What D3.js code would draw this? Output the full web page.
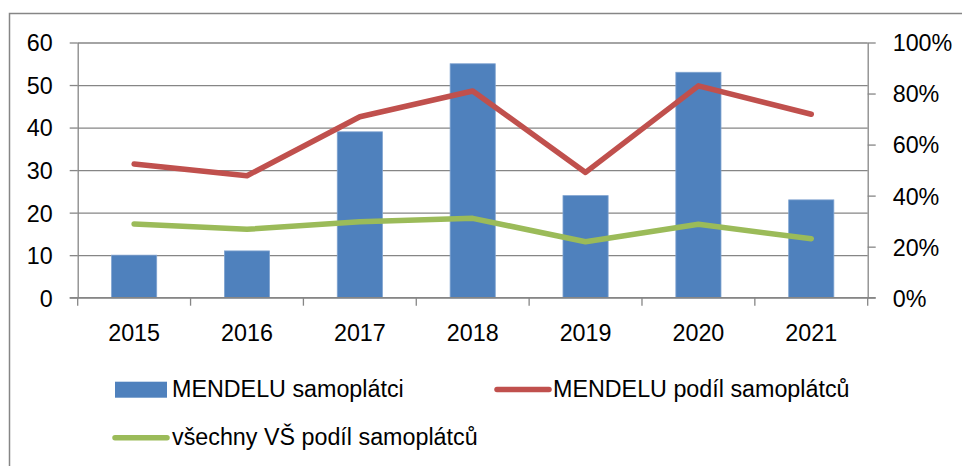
<!DOCTYPE html>
<html>
<head>
<meta charset="utf-8">
<script src="https://cdn.jsdelivr.net/npm/d3@7"></script>
<style>
  body { margin: 0; background: #fff; }
  svg text { font-family: "Liberation Sans", Arial, sans-serif; fill: #000; }
</style>
</head>
<body>
<div id="canvas"></div>
<script>
// data
let years = ["2015", "2016", "2017", "2018", "2019", "2020", "2021"]
let mendeluCount = [10, 11, 39, 55, 24, 53, 23]
let mendeluShare = [0.524, 0.478, 0.709, 0.810, 0.491, 0.830, 0.719]
let allShare = [0.289, 0.268, 0.298, 0.311, 0.219, 0.288, 0.231]
let leftTicks = [0, 10, 20, 30, 40, 50, 60]
let rightTicks = [0, 0.2, 0.4, 0.6, 0.8, 1]

let width = 962
let height = 466
let fontSize = 23.3

let svg = d3.select("#canvas").append("svg")
    .attr("width", width)
    .attr("height", height)

// chart border
svg.append("rect")
    .attr("x", 9.5).attr("y", 13.5)
    .attr("width", 980).attr("height", 480)
    .attr("fill", "none")
    .attr("stroke", "#868686")
    .attr("stroke-width", 1.5)

let plot = { left: 77.7, right: 867.7, top: 42.5, bottom: 297.7 }

let x = d3.scaleBand()
    .domain(years)
    .range([plot.left, plot.right])

let yLeft = d3.scaleLinear().domain([0, 60]).range([plot.bottom, plot.top])
let yRight = d3.scaleLinear().domain([0, 1]).range([plot.bottom, plot.top])

// gridlines (left axis ticks)
svg.append("g")
    .attr("transform", "translate(" + plot.left + ",0)")
    .call(d3.axisLeft(yLeft).tickValues(leftTicks)
        .tickSize(-(plot.right - plot.left)).tickSizeOuter(0).tickPadding(0).tickFormat(""))
    .call(g => g.select(".domain").remove())
    .call(g => g.selectAll("line").attr("stroke", "#868686").attr("stroke-width", 1.3))

// small left tick stubs
svg.append("g")
    .attr("transform", "translate(" + plot.left + ",0)")
    .call(d3.axisLeft(yLeft).tickValues(leftTicks).tickSize(8).tickSizeOuter(0).tickPadding(17))
    .call(g => g.select(".domain").attr("stroke", "#868686").attr("stroke-width", 1.3))
    .call(g => g.selectAll("line").attr("stroke", "#868686").attr("stroke-width", 1.3))
    .call(g => g.selectAll("text").attr("font-size", fontSize).attr("font-family", null).attr("dy", "0.36em"))

// right axis
svg.append("g")
    .attr("transform", "translate(" + plot.right + ",0)")
    .call(d3.axisRight(yRight).tickValues(rightTicks).tickSize(8).tickSizeOuter(0)
        .tickPadding(17).tickFormat(d3.format(".0%")))
    .call(g => g.select(".domain").attr("stroke", "#868686").attr("stroke-width", 1.3))
    .call(g => g.selectAll("line").attr("stroke", "#868686").attr("stroke-width", 1.3))
    .call(g => g.selectAll("text").attr("font-size", fontSize).attr("font-family", null).attr("dy", "0.36em"))

// bars
let barW = x.bandwidth() * 0.4
svg.append("g")
    .selectAll("rect")
    .data(years)
    .enter().append("rect")
        .attr("x", d => x(d) + (x.bandwidth() - barW) / 2)
        .attr("y", (d, i) => yLeft(mendeluCount[i]))
        .attr("width", barW)
        .attr("height", (d, i) => plot.bottom - yLeft(mendeluCount[i]))
        .attr("fill", "#4F81BD")
        .attr("stroke", "#7FA3D0")
        .attr("stroke-width", 0.8)

// bottom axis (category boundaries)
let xAxis = svg.append("g")
    .attr("transform", "translate(0," + plot.bottom + ")")
xAxis.append("line")
    .attr("x1", plot.left - 8).attr("x2", plot.right + 8)
    .attr("stroke", "#868686").attr("stroke-width", 1.3)
xAxis.selectAll(".tk")
    .data(years.concat(["end"]))
    .enter().append("line")
        .attr("x1", (d, i) => plot.left + i * x.step())
        .attr("x2", (d, i) => plot.left + i * x.step())
        .attr("y1", 0).attr("y2", 8)
        .attr("stroke", "#868686").attr("stroke-width", 1.3)
xAxis.selectAll("text")
    .data(years)
    .enter().append("text")
        .attr("x", d => x(d) + x.bandwidth() / 2)
        .attr("y", 43)
        .attr("text-anchor", "middle")
        .attr("font-size", fontSize)
        .text(d => d)

// lines
let line = d3.line()
    .x((d, i) => x(years[i]) + x.bandwidth() / 2)
    .y(d => yRight(d))

svg.append("path")
    .datum(mendeluShare)
    .attr("d", line)
    .attr("fill", "none")
    .attr("stroke", "#C0504D")
    .attr("stroke-width", 5.5)
    .attr("stroke-linejoin", "round")
    .attr("stroke-linecap", "round")

svg.append("path")
    .datum(allShare)
    .attr("d", line)
    .attr("fill", "none")
    .attr("stroke", "#9BBB59")
    .attr("stroke-width", 5.5)
    .attr("stroke-linejoin", "round")
    .attr("stroke-linecap", "round")

// legend
let legend = svg.append("g")

legend.append("rect")
    .attr("x", 115).attr("y", 381.7)
    .attr("width", 52).attr("height", 16)
    .attr("fill", "#4F81BD")
legend.append("text")
    .attr("x", 172).attr("y", 397)
    .attr("font-size", fontSize)
    .text("MENDELU samoplátci")

legend.append("line")
    .attr("x1", 497).attr("x2", 549)
    .attr("y1", 389.5).attr("y2", 389.5)
    .attr("stroke", "#C0504D").attr("stroke-width", 5.5)
    .attr("stroke-linecap", "round")
legend.append("text")
    .attr("x", 553).attr("y", 397)
    .attr("font-size", fontSize)
    .text("MENDELU podíl samoplátců")

legend.append("line")
    .attr("x1", 115).attr("x2", 167)
    .attr("y1", 437.7).attr("y2", 437.7)
    .attr("stroke", "#9BBB59").attr("stroke-width", 5.5)
    .attr("stroke-linecap", "round")
legend.append("text")
    .attr("x", 172).attr("y", 445)
    .attr("font-size", fontSize)
    .text("všechny VŠ podíl samoplátců")
</script>
</body>
</html>
